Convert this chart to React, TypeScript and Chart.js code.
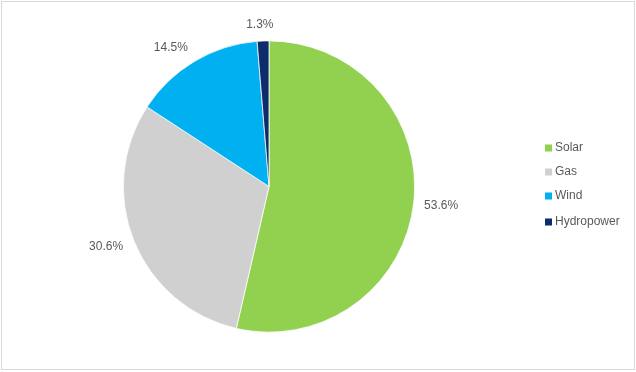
import React, { useEffect, useRef } from "react";
import { Chart, registerables } from "chart.js";

Chart.register(...registerables);

const categories = ["Solar", "Gas", "Wind", "Hydropower"];
const shares = [53.6, 30.6, 14.5, 1.3];
const sliceColors = ["#92D050", "#D0D0D0", "#00B0F0", "#0E2B6B"];

const TEXT_COLOR = "#595959";
const FONT = "12px 'Liberation Sans', Arial, sans-serif";

// Small angular adjustments (degrees) so the outside labels sit in "best fit" spots
const LABEL_ANGLE_NUDGE = [0, 1.7, -4.4, -0.9];
const LABEL_GAP = 10;

// Percentage labels placed just outside each slice
const outsideLabels = {
  id: "outsideLabels",
  afterDatasetsDraw(chart: any) {
    const ctx = chart.ctx;
    const meta = chart.getDatasetMeta(0);
    ctx.save();
    ctx.font = FONT;
    ctx.fillStyle = TEXT_COLOR;
    ctx.textAlign = "center";
    ctx.textBaseline = "middle";
    meta.data.forEach((arc: any, i: number) => {
      const { x, y, startAngle, endAngle, outerRadius } = arc.getProps(
        ["x", "y", "startAngle", "endAngle", "outerRadius"],
        true
      );
      const mid =
        (startAngle + endAngle) / 2 + (LABEL_ANGLE_NUDGE[i] * Math.PI) / 180;
      const dx = Math.cos(mid);
      const dy = Math.sin(mid);
      const text = shares[i].toFixed(1) + "%";
      const w = ctx.measureText(text).width;
      const h = 12;
      const d =
        outerRadius + LABEL_GAP + (w / 2) * Math.abs(dx) + (h / 2) * Math.abs(dy);
      ctx.fillText(text, x + dx * d, y + dy * d);
    });
    ctx.restore();
  },
};

// Vertical legend on the right side
const sideLegend = {
  id: "sideLegend",
  afterDraw(chart: any) {
    const ctx = chart.ctx;
    ctx.save();
    ctx.font = FONT;
    ctx.textBaseline = "middle";
    ctx.textAlign = "left";
    const x0 = 545;
    const ys = [148, 172, 196, 222];
    categories.forEach((name, i) => {
      ctx.fillStyle = sliceColors[i];
      ctx.fillRect(x0, ys[i] - 3.5, 7, 7);
      ctx.fillStyle = TEXT_COLOR;
      ctx.fillText(name, x0 + 10, ys[i]);
    });
    ctx.restore();
  },
};

export default function App() {
  const canvasRef = useRef<HTMLCanvasElement>(null);

  useEffect(() => {
    if (!canvasRef.current) return;
    const chart = new Chart(canvasRef.current, {
      type: "pie",
      data: {
        labels: categories,
        datasets: [
          {
            data: shares,
            backgroundColor: sliceColors,
            borderColor: "#ffffff",
            borderWidth: 0.75,
          },
        ],
      },
      options: {
        responsive: false,
        animation: false,
        layout: { padding: { left: 123, right: 221, top: 40, bottom: 39 } },
        plugins: {
          legend: { display: false },
          tooltip: { enabled: false },
        },
      },
      plugins: [outsideLabels, sideLegend],
    });
    return () => chart.destroy();
  }, []);

  return (
    <div
      style={{
        position: "fixed",
        left: 0,
        top: 0,
        width: 636,
        height: 372,
        background: "#ffffff",
      }}
    >
      <canvas
        ref={canvasRef}
        width={636}
        height={372}
        style={{ position: "absolute", left: 0, top: 0 }}
      />
      <div
        style={{
          position: "absolute",
          left: 1,
          top: 1,
          width: 632,
          height: 367,
          border: "1px solid #D9D9D9",
          pointerEvents: "none",
        }}
      />
    </div>
  );
}
